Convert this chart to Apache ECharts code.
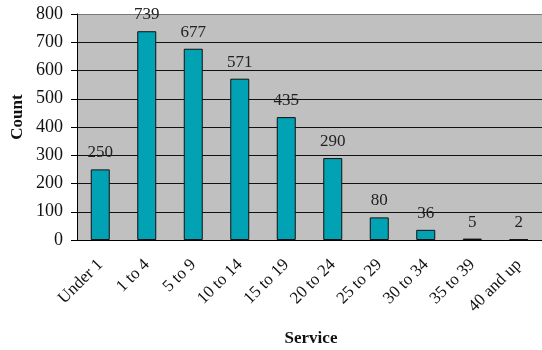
<!DOCTYPE html>
<html>
<head>
<meta charset="utf-8">
<script src="https://cdn.jsdelivr.net/npm/echarts@6/dist/echarts.min.js"></script>
<style>
  html, body { margin: 0; padding: 0; background: #fff; }
  #chart { width: 542px; height: 350px; }
</style>
</head>
<body>
<div id="chart"></div>
<script>
// Years of service groups and their head counts
const categories = ['Under 1', '1 to 4', '5 to 9', '10 to 14', '15 to 19', '20 to 24', '25 to 29', '30 to 34', '35 to 39', '40 and up'];
const counts = [250, 739, 677, 571, 435, 290, 80, 36, 5, 2];
const yTicks = [0, 100, 200, 300, 400, 500, 600, 700, 800];

const serif = '"Liberation Serif", "Times New Roman", serif';

// Horizontal grid lines: black, except the top one which reads as the frame
const gridColors = yTicks.map((v, i) => i === yTicks.length - 1 ? '#7a7a7a' : '#111');

const chart = echarts.init(document.getElementById('chart'), null, { renderer: 'canvas' });
chart.setOption({
  animation: false,
  backgroundColor: '#fff',
  grid: {
    left: 77, top: 14, width: 472, height: 226,
    show: true, backgroundColor: '#c0c0c0', borderWidth: 0
  },
  xAxis: {
    type: 'category',
    data: categories,
    axisLine: { lineStyle: { color: '#000', width: 1 } },
    axisTick: { length: 5, lineStyle: { color: '#000' } },
    axisLabel: {
      rotate: 45, margin: 22, color: '#111',
      fontFamily: serif, fontSize: 17
    }
  },
  yAxis: {
    type: 'value',
    min: 0, max: 800, interval: 100,
    axisLine: { show: true, lineStyle: { color: '#000', width: 1 } },
    axisTick: { show: true, length: 6, lineStyle: { color: '#000' } },
    axisLabel: {
      margin: 14, color: '#111',
      fontFamily: serif, fontSize: 18
    },
    splitLine: { lineStyle: { color: gridColors, width: 1 } }
  },
  series: [{
    type: 'bar',
    data: counts,
    barWidth: 19,
    itemStyle: { color: '#00a2b3', borderColor: '#111', borderWidth: 1 },
    label: {
      show: true, position: 'top', distance: 8,
      color: '#222', fontFamily: serif, fontSize: 17
    }
  }],
  graphic: [
    {
      type: 'text',
      x: 18, y: 117, rotation: Math.PI / 2,
      style: {
        text: 'Count', fill: '#111', font: 'bold 17px ' + serif,
        textAlign: 'center', textVerticalAlign: 'middle'
      }
    },
    {
      type: 'text',
      x: 311, y: 339,
      style: {
        text: 'Service', fill: '#111', font: 'bold 17px ' + serif,
        textAlign: 'center', textVerticalAlign: 'middle'
      }
    }
  ]
});
</script>
</body>
</html>
